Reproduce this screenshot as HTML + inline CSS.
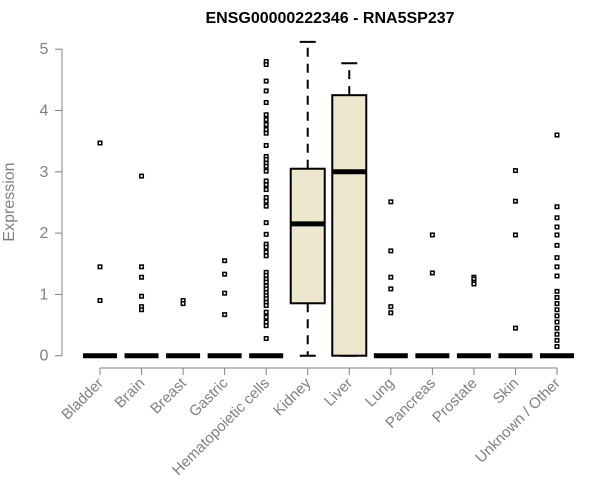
<!DOCTYPE html>
<html><head><meta charset="utf-8"><style>
body{margin:0;background:#fff}
svg{display:block;font-family:"Liberation Sans",Arial,sans-serif}
</style></head><body>
<svg id="chart" width="600" height="500">
<text x="330" y="23" text-anchor="middle" font-weight="bold" font-size="16">ENSG00000222346 - RNA5SP237</text>
<text transform="translate(14,202) rotate(-90)" text-anchor="middle" font-size="16" fill="#808080">Expression</text>
<g id="plot"></g>
</svg>
<script>
const categories=["Bladder","Brain","Breast","Gastric","Hematopoietic cells","Kidney","Liver","Lung","Pancreas","Prostate","Skin","Unknown / Other"];
const q1=[0,0,0,0,0,0.855,0,0,0,0,0,0];
const medians=[0,0,0,0,0,2.15,3.0,0,0,0,0,0];
const q3=[0,0,0,0,0,3.05,4.25,0,0,0,0,0];
const whiskLo=[0,0,0,0,0,0,0,0,0,0,0,0];
const whiskHi=[0,0,0,0,0,5.12,4.77,0,0,0,0,0];
const outliers=[
[3.47,1.45,0.9],
[2.93,1.45,1.28,0.97,0.8,0.75],
[0.9,0.85],
[1.55,1.33,1.02,0.67],
[4.8,4.75,4.48,4.32,4.13,3.93,3.85,3.77,3.69,3.63,3.43,3.25,3.2,3.14,3.09,3.01,2.85,2.79,2.71,2.58,2.52,2.44,2.17,1.98,1.82,1.77,1.69,1.63,1.36,1.31,1.25,1.2,1.14,1.09,1.03,0.98,0.93,0.87,0.82,0.71,0.63,0.55,0.49,0.28],
[],
[],
[2.51,1.71,1.28,1.09,0.8,0.7],
[1.97,1.35],
[1.28,1.25,1.2,1.17],
[3.02,2.52,1.97,0.45],
[3.6,2.43,2.25,2.1,1.97,1.8,1.6,1.45,1.3,1.05,0.95,0.85,0.75,0.65,0.55,0.45,0.35,0.25,0.15]
];
const yTicks=[0,1,2,3,4,5];
const NS="http://www.w3.org/2000/svg";
const g=document.getElementById("plot");
const x=i=>100+i*(457/11);
const y=v=>355.7-v*61.3;
function el(t,a){const e=document.createElementNS(NS,t);for(const k in a)e.setAttribute(k,a[k]);g.appendChild(e);return e;}
let ax=el("line",{x1:62,x2:62,y1:y(0),y2:y(5),stroke:"#808080"});


yTicks.forEach(t=>{
 const l=el("line",{x1:55,x2:62,y1:y(t),y2:y(t),stroke:"#808080"});
 
 
 const tx=el("text",{x:44,y:y(t)+5,"text-anchor":"middle","font-size":16,fill:"#808080"});
 tx.textContent=t;
 
 
});
let xa=el("line",{x1:x(0),x2:x(11),y1:368,y2:368,stroke:"#808080"});


categories.forEach((c,i)=>{
 const cx=x(i),hw=17;
 const tk=el("line",{x1:cx,x2:cx,y1:368,y2:375,stroke:"#808080"});
 
 
 const lb=el("text",{transform:`translate(${cx+4},${384}) rotate(-45)`,"text-anchor":"end","font-size":15,fill:"#808080"});
 lb.textContent=c;
 
 
 if(q3[i]>q1[i]){
  const w1=el("line",{x1:cx,x2:cx,y1:y(q3[i]),y2:y(whiskHi[i]),stroke:"#000","stroke-width":2,"stroke-dasharray":"9,7"});
  
  
  const w2=el("line",{x1:cx,x2:cx,y1:y(q1[i]),y2:y(whiskLo[i]),stroke:"#000","stroke-width":2,"stroke-dasharray":"9,7"});
  
  
  [whiskHi[i],whiskLo[i]].forEach(v=>{
   const cp=el("line",{x1:cx-8,x2:cx+8,y1:y(v),y2:y(v),stroke:"#000","stroke-width":2});
   
   
  });
  const b=el("rect",{x:cx-hw,y:y(q3[i]),width:2*hw,height:y(q1[i])-y(q3[i]),fill:"#ede7cd",stroke:"#000","stroke-width":2});
  
  
 }
 const m=el("line",{x1:cx-hw,x2:cx+hw,y1:y(medians[i]),y2:y(medians[i]),stroke:"#000","stroke-width":5});
 
 
 outliers[i].forEach(v=>{
  const o=el("rect",{x:cx-1.75,y:y(v)-1.75,width:3.5,height:3.5,fill:"#fff",stroke:"#000","stroke-width":1.5});
  
  
 });
});
</script>
</body></html>
